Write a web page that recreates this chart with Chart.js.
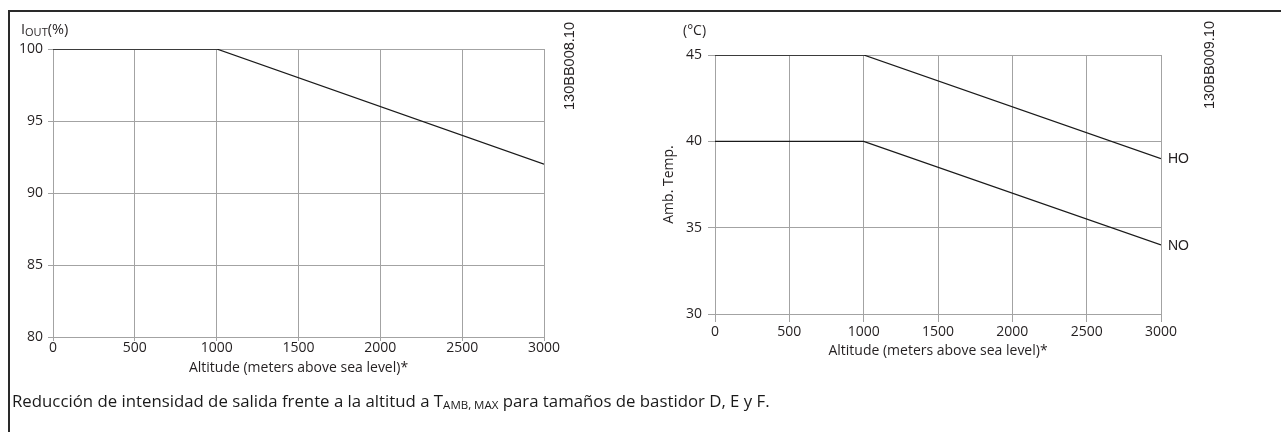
<!DOCTYPE html>
<html>
<head>
<meta charset="utf-8">
<script src="https://cdn.jsdelivr.net/npm/chart.js@4/dist/chart.umd.min.js"></script>
<style>
  html, body { margin: 0; padding: 0; background: #fff; width: 1281px; height: 432px; overflow: hidden; }
  #frame { position: absolute; left: 8px; top: 10px; width: 1290px; height: 440px;
           border-top: 2px solid #2a2a2a; border-left: 2px solid #2a2a2a; box-sizing: border-box; }
  canvas { position: absolute; top: 0; }
  #c1 { left: 0; }
  #c2 { left: 620px; }
  #caption { position: absolute; left: 12px; top: 390px; font-family: "Open Sans", sans-serif;
             font-size: 16.8px; line-height: 22px; color: #1a1a1a; white-space: nowrap; }
  #caption sub { font-size: 11.5px; vertical-align: -2px; line-height: 0; }
</style>
</head>
<body>
<div id="frame"></div>
<canvas id="c1" width="620" height="432"></canvas>
<canvas id="c2" width="661" height="432"></canvas>
<div id="caption">Reducción de intensidad de salida frente a la altitud a T<sub>AMB, MAX</sub> para tamaños de bastidor D, E y F.</div>
<script>
// ---- data ----
const altitudeM = [0, 1000, 3000];
const outputCurrentPct = [100, 100, 92];
const ambTempHO = [45, 45, 39];
const ambTempNO = [40, 40, 34];
const xTicks = [0, 500, 1000, 1500, 2000, 2500, 3000];
const yTicksCurrent = [80, 85, 90, 95, 100];
const yTicksTemp = [30, 35, 40, 45];
const seriesLabels = ['HO', 'NO'];
const xTitle = 'Altitude (meters above sea level)*';
const docCodes = ['130BB008.10', '130BB009.10'];

const GRID = '#a3a3a3';
const INK = '#231f20';

function pts(xs, ys) { return xs.map((x, i) => ({ x: x, y: ys[i] })); }

function xScale(tl, pad, lh) {
  return {
    type: 'linear', min: 0, max: 3000,
    afterBuildTicks: s => { s.ticks = xTicks.map(v => ({ value: v })); },
    ticks: { color: INK, font: { family: '"Open Sans", sans-serif', size: 14, lineHeight: lh },
             padding: pad, maxRotation: 0, autoSkip: false, callback: v => String(v) },
    grid: { color: GRID, lineWidth: 1, tickLength: tl, tickColor: GRID },
    border: { color: GRID, width: 1 },
    afterFit: s => { s.height = 40; }
  };
}
function yScale(min, max, ticks, width, tl, pad) {
  return {
    type: 'linear', min: min, max: max,
    afterBuildTicks: s => { s.ticks = ticks.map(v => ({ value: v })); },
    ticks: { color: INK, font: { family: '"Open Sans", sans-serif', size: 14 }, padding: pad, callback: v => String(v) },
    grid: { color: GRID, lineWidth: 1, tickLength: tl, tickColor: GRID },
    border: { color: GRID, width: 1 },
    afterFit: s => { s.width = width; }
  };
}

function drawRotated(ctx, text, x, y, font) {
  ctx.save();
  ctx.translate(x, y);
  ctx.rotate(-Math.PI / 2);
  ctx.font = font;
  ctx.textAlign = 'center';
  ctx.textBaseline = 'middle';
  ctx.fillText(text, 0, 0);
  ctx.restore();
}

function drawXTitle(chart, dy) {
  const ctx = chart.ctx, a = chart.chartArea;
  ctx.save();
  ctx.fillStyle = INK;
  ctx.font = '14px "Open Sans", sans-serif';
  ctx.textAlign = 'center';
  ctx.textBaseline = 'middle';
  ctx.fillText(xTitle, (a.left + a.right) / 2, a.bottom + dy);
  ctx.restore();
}

const common = {
  responsive: false,
  animation: false,
  devicePixelRatio: 1,
  plugins: { legend: { display: false }, tooltip: { enabled: false } },
  elements: { point: { radius: 0 }, line: { tension: 0 } }
};

// ---- chart 1 ----
new Chart(document.getElementById('c1'), {
  type: 'line',
  data: { datasets: [{ data: pts(altitudeM, outputCurrentPct), borderColor: '#1a1a1a', borderWidth: 1.3, fill: false }] },
  options: Object.assign({}, common, {
    layout: { padding: { left: 0, top: 49, right: 76, bottom: 432 - 337 - 40 } },
    scales: { x: xScale(4, 0, 1), y: yScale(80, 100, yTicksCurrent, 53, 5, 5) }
  }),
  plugins: [{
    id: 'txt1',
    afterDraw(chart) {
      const ctx = chart.ctx;
      ctx.save();
      ctx.fillStyle = INK;
      ctx.textBaseline = 'middle';
      ctx.textAlign = 'left';
      let x = 21;
      ctx.font = '14.5px "Open Sans", sans-serif';
      ctx.fillText('I', x, 30); x += ctx.measureText('I').width;
      ctx.font = '11px "Open Sans", sans-serif';
      ctx.fillText('OUT', x, 33); x += ctx.measureText('OUT').width;
      ctx.font = '14.5px "Open Sans", sans-serif';
      ctx.fillText('(%)', x, 30);
      drawRotated(ctx, docCodes[0], 570, 66, '14.5px "Liberation Sans", Arial, sans-serif');
      ctx.restore();
      drawXTitle(chart, 31);
    }
  }]
});

// ---- chart 2 ----
new Chart(document.getElementById('c2'), {
  type: 'line',
  data: { datasets: [
    { label: seriesLabels[0], data: pts(altitudeM, ambTempHO), borderColor: '#1a1a1a', borderWidth: 1.3, fill: false },
    { label: seriesLabels[1], data: pts(altitudeM, ambTempNO), borderColor: '#1a1a1a', borderWidth: 1.3, fill: false }
  ] },
  options: Object.assign({}, common, {
    layout: { padding: { left: 0, top: 55, right: 661 - 541, bottom: 432 - 314 - 40 } },
    scales: { x: xScale(8, 2, 1.2), y: yScale(30, 45, yTicksTemp, 95, 7, 6) }
  }),
  plugins: [{
    id: 'txt2',
    afterDraw(chart) {
      const ctx = chart.ctx;
      const xs = chart.scales.x, ys = chart.scales.y;
      ctx.save();
      ctx.fillStyle = INK;
      ctx.textBaseline = 'middle';
      ctx.textAlign = 'left';
      ctx.font = '14px "Open Sans", sans-serif';
      ctx.fillText('(°C)', 683 - 620, 31);
      drawRotated(ctx, 'Amb. Temp.', 669 - 620, (chart.chartArea.top + chart.chartArea.bottom) / 2, '14px "Open Sans", sans-serif');
      drawRotated(ctx, docCodes[1], 1210 - 620, 65, '14.5px "Liberation Sans", Arial, sans-serif');
      ctx.font = '14px "Liberation Sans", Arial, sans-serif';
      ctx.textAlign = 'left';
      chart.data.datasets.forEach((ds) => {
        const last = ds.data[ds.data.length - 1];
        ctx.fillText(ds.label, xs.getPixelForValue(last.x) + 7, ys.getPixelForValue(last.y) + 1);
      });
      ctx.restore();
      drawXTitle(chart, 37);
    }
  }]
});
</script>
</body>
</html>
